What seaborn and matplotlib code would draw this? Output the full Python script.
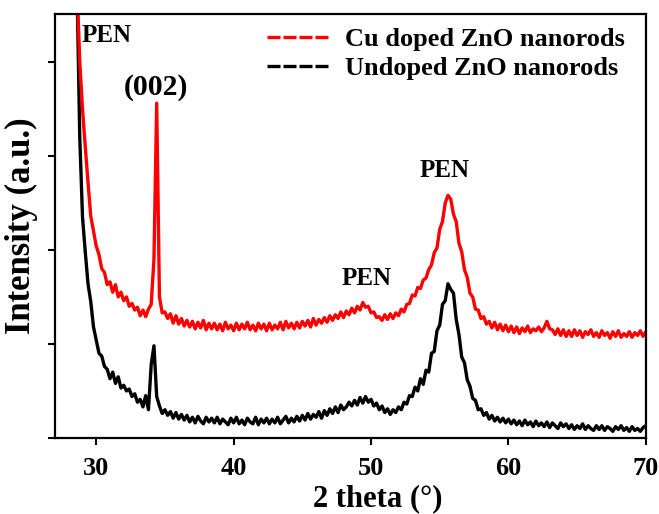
import numpy as np
import pandas as pd
import matplotlib
matplotlib.use("Agg")
import matplotlib.pyplot as plt
from matplotlib.lines import Line2D
import seaborn as sns

# 2 theta grid, 0.2 deg step
two_theta = np.round(np.arange(28.6, 70.01, 0.2), 1)

# undoped ZnO nanorods (a.u.), rows of 10 points starting at the commented angle
undoped = [
    4.8, 3.2, 2.35, 1.98, 1.64, 1.45, 1.18, 1.04, 0.9, 0.87,      # 28.6
    0.76, 0.73, 0.63, 0.7, 0.58, 0.65, 0.53, 0.56, 0.5, 0.52,     # 30.6
    0.44, 0.47, 0.38, 0.41, 0.33, 0.45, 0.3, 0.78, 0.98, 0.44,    # 32.6
    0.34, 0.26, 0.3, 0.24, 0.28, 0.21, 0.27, 0.2, 0.25, 0.19,     # 34.6
    0.24, 0.17, 0.22, 0.16, 0.23, 0.18, 0.15, 0.22, 0.17, 0.21,   # 36.6
    0.16, 0.22, 0.15, 0.2, 0.17, 0.14, 0.21, 0.16, 0.22, 0.15,    # 38.6
    0.19, 0.14, 0.21, 0.17, 0.15, 0.22, 0.14, 0.2, 0.16, 0.21,    # 40.6
    0.15, 0.2, 0.16, 0.22, 0.15, 0.19, 0.23, 0.16, 0.21, 0.17,    # 42.6
    0.23, 0.18, 0.24, 0.19, 0.26, 0.2, 0.25, 0.22, 0.28, 0.21,    # 44.6
    0.29, 0.24, 0.31, 0.26, 0.33, 0.27, 0.35, 0.3, 0.33, 0.38,    # 46.6
    0.34, 0.4, 0.35, 0.43, 0.37, 0.44, 0.38, 0.41, 0.34, 0.37,    # 48.6
    0.3, 0.34, 0.27, 0.31, 0.25, 0.3, 0.27, 0.33, 0.3, 0.38,      # 50.6
    0.36, 0.45, 0.44, 0.54, 0.5, 0.63, 0.57, 0.72, 0.7, 0.9,      # 52.6
    0.92, 1.14, 1.2, 1.42, 1.46, 1.64, 1.58, 1.54, 1.26, 1.1,     # 54.6
    0.86, 0.8, 0.62, 0.55, 0.42, 0.4, 0.3, 0.31, 0.24, 0.27,      # 56.6
    0.2, 0.24, 0.18, 0.22, 0.17, 0.21, 0.16, 0.2, 0.15, 0.19,     # 58.6
    0.14, 0.18, 0.13, 0.19, 0.14, 0.17, 0.12, 0.18, 0.13, 0.16,   # 60.6
    0.12, 0.17, 0.11, 0.16, 0.13, 0.1, 0.16, 0.12, 0.15, 0.1,     # 62.6
    0.14, 0.09, 0.13, 0.1, 0.15, 0.09, 0.13, 0.1, 0.08, 0.13,     # 64.6
    0.09, 0.13, 0.08, 0.12, 0.1, 0.07, 0.12, 0.09, 0.13, 0.08,    # 66.6
    0.11, 0.07, 0.12, 0.08, 0.1, 0.07, 0.11, 0.13,                # 68.6
]

# Cu doped ZnO nanorods (a.u.)
cu_doped = [
    4.8, 4.0, 3.5, 3.1, 2.72, 2.36, 2.2, 2.04, 1.95, 1.8,         # 28.6
    1.76, 1.63, 1.66, 1.55, 1.63, 1.5, 1.55, 1.46, 1.5, 1.4,      # 30.6
    1.43, 1.36, 1.39, 1.3, 1.36, 1.29, 1.37, 1.42, 1.9, 3.56,     # 32.6
    1.5, 1.33, 1.34, 1.27, 1.32, 1.22, 1.3, 1.21, 1.27, 1.19,     # 34.6
    1.25, 1.18, 1.24, 1.16, 1.23, 1.17, 1.25, 1.15, 1.22, 1.16,   # 36.6
    1.22, 1.15, 1.21, 1.14, 1.23, 1.16, 1.2, 1.14, 1.22, 1.15,    # 38.6
    1.21, 1.16, 1.23, 1.15, 1.2, 1.14, 1.22, 1.16, 1.21, 1.14,    # 40.6
    1.22, 1.15, 1.2, 1.16, 1.23, 1.15, 1.24, 1.17, 1.22, 1.16,    # 42.6
    1.23, 1.17, 1.24, 1.19, 1.25, 1.18, 1.27, 1.2, 1.26, 1.22,    # 44.6
    1.28, 1.23, 1.3, 1.25, 1.31, 1.27, 1.34, 1.28, 1.35, 1.31,    # 46.6
    1.38, 1.33, 1.4, 1.36, 1.44, 1.39, 1.4, 1.33, 1.34, 1.28,     # 48.6
    1.29, 1.25, 1.31, 1.26, 1.32, 1.27, 1.33, 1.3, 1.37, 1.34,    # 50.6
    1.42, 1.43, 1.52, 1.51, 1.6, 1.59, 1.68, 1.7, 1.79, 1.84,     # 52.6
    1.97, 2.02, 2.22, 2.3, 2.5, 2.58, 2.54, 2.38, 2.3, 2.07,      # 54.6
    1.98, 1.79, 1.71, 1.54, 1.5, 1.37, 1.36, 1.27, 1.29, 1.21,    # 56.6
    1.24, 1.17, 1.23, 1.15, 1.21, 1.14, 1.2, 1.13, 1.19, 1.12,    # 58.6
    1.18, 1.11, 1.17, 1.13, 1.19, 1.12, 1.16, 1.14, 1.18, 1.13,   # 60.6
    1.17, 1.24, 1.16, 1.15, 1.1, 1.16, 1.09, 1.15, 1.08, 1.14,    # 62.6
    1.08, 1.15, 1.09, 1.14, 1.07, 1.13, 1.1, 1.15, 1.08, 1.12,    # 64.6
    1.07, 1.14, 1.09, 1.12, 1.06, 1.13, 1.08, 1.14, 1.07, 1.11,   # 66.6
    1.08, 1.13, 1.07, 1.12, 1.09, 1.14, 1.08, 1.13,               # 68.6
]

series_labels = ["Cu doped ZnO nanorods", "Undoped ZnO nanorods"]
series_colors = ["#FF0000", "#000000"]
x_ticks = [30, 40, 50, 60, 70]

# peak labels: text, 2theta, intensity, font size
peak_labels = [("PEN", 30.75, 4.28, 18), ("(002)", 34.33, 3.73, 21.5),
               ("PEN", 49.7, 1.70, 18), ("PEN", 55.35, 2.84, 18)]

sns.set_style("ticks")
plt.rcParams["font.family"] = ["Liberation Serif", "DejaVu Serif"]
plt.rcParams.update({
    "font.weight": "bold",
    "text.color": "black",
    "axes.labelcolor": "black",
    "xtick.color": "black",
    "ytick.color": "black",
})

df = pd.DataFrame({"two_theta": two_theta, "cu": cu_doped, "undoped": undoped})

fig = plt.figure(figsize=(6.59, 5.14), dpi=100)
ax = fig.add_axes([0.0835, 0.148, 0.8965, 0.825])

sns.lineplot(data=df, x="two_theta", y="undoped", color=series_colors[1],
             linewidth=2.4, ax=ax, legend=False)
sns.lineplot(data=df, x="two_theta", y="cu", color=series_colors[0],
             linewidth=2.4, ax=ax, legend=False)

ax.set_xlim(27, 70)
ax.set_ylim(0, 4.51)
ax.set_xticks(x_ticks)
ax.set_yticks([0, 1, 2, 3, 4])
ax.set_yticklabels([])
ax.tick_params(axis="both", direction="out", length=5, width=1.5, labelsize=19)
ax.tick_params(axis="x", pad=9)
for s in ax.spines.values():
    s.set_linewidth(1.6)
    s.set_color("black")

ax.set_xlabel("2 theta (°)", fontsize=22, fontweight="bold", labelpad=2.5, x=0.547)
ax.set_ylabel("Intensity (a.u.)", fontsize=25, fontweight="bold", labelpad=4)

for txt, px, py, fs in peak_labels:
    ax.text(px, py, txt, ha="center", va="center", fontsize=fs, fontweight="bold")

handles = [Line2D([], [], color=c, linewidth=2.4, dashes=(3.9, 0.9)) for c in series_colors]
ax.legend(handles, series_labels, loc="upper left", bbox_to_anchor=(0.359, 0.967),
          frameon=False, handlelength=2.4, handletextpad=0.57,
          labelspacing=0.2, borderpad=0, borderaxespad=0,
          prop={"weight": "bold", "size": 19})

plt.savefig("out.png", dpi=100)
